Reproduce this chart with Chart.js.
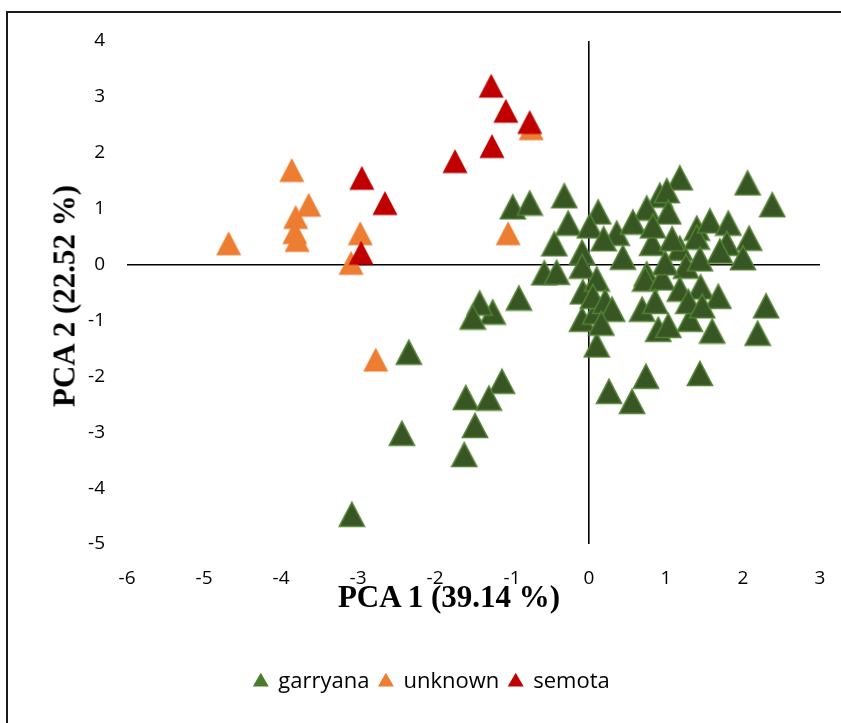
<!DOCTYPE html>
<html>
<head>
<meta charset="utf-8">
<script src="https://cdn.jsdelivr.net/npm/chart.js@4.4.0/dist/chart.umd.min.js"></script>
<style>
  body { margin: 0; background: #fff; overflow: hidden; }
  #wrap { position: relative; width: 841px; height: 723px; overflow: hidden; }
  #frame { position: absolute; left: 6px; top: 11px; width: 1000px; height: 1000px;
           border-top: 2px solid #1a1a1a; border-left: 2px solid #1a1a1a; }
  #pca { position: absolute; left: 0; top: 0; }
  .atitle { position: absolute; font-family: "Liberation Serif", "Times New Roman", serif; font-weight: bold;
            font-size: 31px; line-height: 31px; color: #000; white-space: nowrap; }
  #xtitle { left: 449px; top: 581px; transform: translateX(-50%); }
  #ytitle { left: 64px; top: 296px; transform: translate(-50%, -50%) rotate(-90deg); }
</style>
</head>
<body>
<div id="wrap">
  <div id="frame"></div>
  <canvas id="pca" width="841" height="723"></canvas>
  <div class="atitle" id="xtitle">PCA 1 (39.14 %)</div>
  <div class="atitle" id="ytitle">PCA 2 (22.52 %)</div>
</div>
<script>
// ==========================
// Data
// ==========================
const seriesNames = ["garryana", "unknown", "semota"];

const garryanaX = [-0.99, -0.77, -0.32, -0.27, -0.45, 0.12, 0.01, -0.09, -0.09, -0.58, -0.42, -0.91, -1.25, -1.42,
  -1.51, -0.08, -0.09, 0.08, 0.10, -2.34, -2.43, -3.08, -1.13, -1.60, -1.30, -1.48, -1.62, 1.18, 2.06, 2.38,
  0.92, 1.01, 0.75, 1.03, 0.36, 0.57, 0.82, 0.44, 1.18, 1.40, 1.40, 1.57, 1.81, 2.08, 1.79, 2.00, 1.26, 0.75,
  0.73, 0.95, 1.18, 1.45, 1.68, 0.69, 1.31, 0.90, 1.03, 1.60, 2.30, 2.19, 0.74, 0.26, 0.56, 1.44, 0.10, 0.05,
  0.21, 0.19, 0.99, 1.08, 1.44, 1.70, 1.29, 1.47, 0.86, 0.30, 0.16, 0.83];
const garryanaY = [1.04, 1.11, 1.24, 0.75, 0.38, 0.95, 0.70, 0.23, -0.02, -0.14, -0.13, -0.59, -0.84, -0.68,
  -0.93, -0.48, -0.97, -0.84, -1.43, -1.56, -3.01, -4.46, -2.08, -2.37, -2.38, -2.87, -3.39, 1.56, 1.47, 1.08,
  1.25, 1.33, 1.02, 0.95, 0.57, 0.77, 0.39, 0.14, 0.30, 0.66, 0.50, 0.79, 0.75, 0.48, 0.39, 0.13, -0.02, -0.16,
  -0.25, -0.23, -0.43, -0.39, -0.56, -0.79, -0.97, -1.15, -1.08, -1.18, -0.73, -1.22, -1.99, -2.26, -2.44, -1.94, -0.25, -0.56,
  -0.65, 0.47, 0.04, 0.47, 0.11, 0.25, -0.65, -0.73, -0.65, -0.79, -1.04, 0.70];

const unknownX = [-3.86, -3.64, -3.81, -3.82, -3.79, -4.68, -2.97, -3.09, -2.77, -1.05, -0.75];
const unknownY = [1.70, 1.08, 0.86, 0.59, 0.45, 0.39, 0.57, 0.04, -1.69, 0.57, 2.45];

const semotaX = [-1.27, -1.08, -0.77, -1.26, -1.74, -2.95, -2.65, -2.96];
const semotaY = [3.21, 2.76, 2.56, 2.13, 1.86, 1.56, 1.11, 0.22];

const xTicks = [-6, -5, -4, -3, -2, -1, 0, 1, 2, 3];
const yTicks = [-5, -4, -3, -2, -1, 0, 1, 2, 3, 4];

// ==========================
// Marker images (Excel-like triangles)
// ==========================
function makeTriangle(fill, stroke) {
  const c = document.createElement("canvas");
  c.width = 28; c.height = 28;
  const g = c.getContext("2d");
  g.beginPath();
  g.moveTo(14, 2.5);
  g.lineTo(26.5, 26.5);
  g.lineTo(1.5, 26.5);
  g.closePath();
  g.fillStyle = fill;
  g.fill();
  if (stroke) {
    g.lineWidth = 1.6;
    g.strokeStyle = stroke;
    g.stroke();
  }
  return c;
}

const toPoints = (xs, ys) => xs.map((x, i) => ({ x: x, y: ys[i] }));

const datasets = [
  { label: seriesNames[0], data: toPoints(garryanaX, garryanaY), pointStyle: makeTriangle("#375623", "#548235"),
    legendColor: "#4b7a2d", order: 2 },
  { label: seriesNames[1], data: toPoints(unknownX, unknownY), pointStyle: makeTriangle("#ED7D31", null),
    legendColor: "#ED7D31", order: 1 },
  { label: seriesNames[2], data: toPoints(semotaX, semotaY), pointStyle: makeTriangle("#C00000", null),
    legendColor: "#C00000", order: 0 }
];
datasets.forEach(ds => { ds.pointRadius = 13; ds.pointHoverRadius = 13; ds.showLine = false; });

const zeroLine = ctx => (ctx.tick && ctx.tick.value === 0) ? "#000" : "rgba(0,0,0,0)";
const tickFont = { family: "'Open Sans', sans-serif", size: 19 };

// legend sits a little right of the canvas centre in the original
const legendShift = {
  id: "legendShift",
  afterLayout(chart) {
    if (chart.legend) { chart.legend.left += 22; chart.legend.right += 22; }
  }
};

new Chart(document.getElementById("pca"), {
  type: "scatter",
  data: { datasets: datasets },
  plugins: [legendShift],
  options: {
    responsive: false,
    animation: false,
    events: [],
    layout: { padding: { left: 0, top: 41, right: 21, bottom: 20 } },
    plugins: {
      tooltip: { enabled: false },
      legend: {
        position: "bottom",
        labels: {
          usePointStyle: true,
          boxWidth: 13,
          boxHeight: 13,
          padding: 10,
          color: "#111",
          font: { family: "'Open Sans', sans-serif", size: 22 },
          generateLabels: chart => chart.data.datasets.map((ds, i) => ({
            text: ds.label,
            fillStyle: ds.legendColor,
            strokeStyle: ds.legendColor,
            lineWidth: 0,
            pointStyle: "triangle",
            hidden: false,
            datasetIndex: i
          }))
        }
      }
    },
    scales: {
      x: {
        type: "linear",
        min: xTicks[0],
        max: xTicks[xTicks.length - 1],
        afterBuildTicks: s => { s.ticks = xTicks.map(v => ({ value: v })); },
        afterFit: s => { s.height = 117; },
        border: { display: false },
        grid: { color: zeroLine, lineWidth: 1.6, drawTicks: true, tickLength: 22, tickColor: "rgba(0,0,0,0)" },
        ticks: { padding: 1, color: "#000", font: tickFont, maxRotation: 0 }
      },
      y: {
        type: "linear",
        min: yTicks[0],
        max: yTicks[yTicks.length - 1],
        afterBuildTicks: s => { s.ticks = yTicks.map(v => ({ value: v })); },
        afterFit: s => { s.width = 127; },
        border: { display: false },
        grid: { color: zeroLine, lineWidth: 1.6, drawTicks: false },
        ticks: { padding: 22, color: "#000", font: tickFont }
      }
    }
  }
});
</script>
</body>
</html>
